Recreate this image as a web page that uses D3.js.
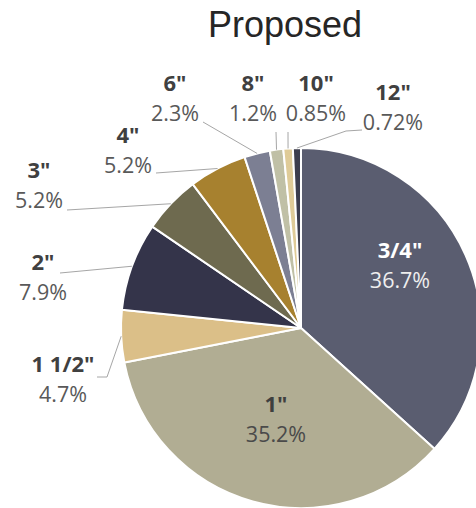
<!DOCTYPE html>
<html>
<head>
<meta charset="utf-8">
<script src="https://cdn.jsdelivr.net/npm/d3@7"></script>
<style>
  html, body { margin: 0; padding: 0; background: #ffffff; }
  svg { display: block; }
</style>
</head>
<body>
<svg id="chart" width="476" height="508"></svg>
<script>
// Pipe size distribution, proposed layout
const sizes = ['3/4"', '1"', '1 1/2"', '2"', '3"', '4"', '6"', '8"', '10"', '12"'];
const shares = [36.7, 35.2, 4.7, 7.9, 5.2, 5.2, 2.3, 1.2, 0.85, 0.72];
const shareLabels = ['36.7%', '35.2%', '4.7%', '7.9%', '5.2%', '5.2%', '2.3%', '1.2%', '0.85%', '0.72%'];
const sliceColors = ['#5a5d70', '#b1ad93', '#dbbf88', '#34344a', '#6e6a4f',
                     '#a7812f', '#7c7f93', '#c0c0a6', '#dfcb98', '#3c3d4d'];
const title = 'Proposed';

const width = 476, height = 508;
const cx = 301, cy = 328, radius = 180;

// Label anchors (centre x, baseline of the size line), leader bends and text colours
const labelLayout = [
  { x: 400, y: 258, inside: true, nameFill: '#ffffff', valueFill: '#eeeeee' },
  { x: 276, y: 412, inside: true, nameFill: '#3f3f3f', valueFill: '#4a4a4a' },
  { x: 63, y: 372, leader: [[97, 377], [107, 377]] },
  { x: 43, y: 270, leader: [[60, 273]] },
  { x: 39, y: 178, leader: [[67, 210]] },
  { x: 128, y: 143, leader: [[156, 173]] },
  { x: 175, y: 91, leader: [[203, 122]] },
  { x: 253, y: 91, leader: [[276, 132]] },
  { x: 316, y: 91, leader: [[288, 132]] },
  { x: 393, y: 100, leader: [[362, 130], [346, 131]] }
];

const svg = d3.select('#chart');

svg.append('text')
  .attr('x', 285)
  .attr('y', 37)
  .attr('text-anchor', 'middle')
  .attr('font-family', '"Liberation Sans", Arial, sans-serif')
  .attr('font-size', 36)
  .attr('fill', '#262626')
  .text(title);

const pie = d3.pie().sort(null).value(d => d).startAngle(0).endAngle(2 * Math.PI);
const arcs = pie(shares);
const arc = d3.arc().innerRadius(0).outerRadius(radius);
const color = d3.scaleOrdinal().domain(sizes).range(sliceColors);

const g = svg.append('g').attr('transform', `translate(${cx},${cy})`);

g.selectAll('path.slice')
  .data(arcs)
  .join('path')
  .attr('class', 'slice')
  .attr('d', arc)
  .attr('fill', (d, i) => color(sizes[i]))
  .attr('stroke', '#ffffff')
  .attr('stroke-width', 2)
  .attr('stroke-linejoin', 'round');

// Leader lines from the outside labels to the middle of each slice's rim
const rimPoint = d => {
  const a = (d.startAngle + d.endAngle) / 2;
  return [cx + radius * Math.sin(a), cy - radius * Math.cos(a)];
};
const line = d3.line();

svg.selectAll('path.leader')
  .data(arcs.filter((d, i) => labelLayout[i].leader))
  .join('path')
  .attr('class', 'leader')
  .attr('d', d => line(labelLayout[d.index].leader.concat([rimPoint(d)])))
  .attr('fill', 'none')
  .attr('stroke', '#a6a6a6')
  .attr('stroke-width', 1);

const labels = svg.selectAll('g.label')
  .data(arcs)
  .join('g')
  .attr('class', 'label')
  .attr('font-family', '"Open Sans", "DejaVu Sans", sans-serif')
  .attr('text-anchor', 'middle');

labels.append('text')
  .attr('x', d => labelLayout[d.index].x)
  .attr('y', d => labelLayout[d.index].y)
  .attr('font-size', 22)
  .attr('font-weight', 'bold')
  .attr('fill', d => labelLayout[d.index].nameFill || '#404040')
  .text(d => sizes[d.index]);

labels.append('text')
  .attr('x', d => labelLayout[d.index].x)
  .attr('y', d => labelLayout[d.index].y + 30)
  .attr('font-size', 21.5)
  .attr('fill', d => labelLayout[d.index].valueFill || '#595959')
  .text(d => shareLabels[d.index]);
</script>
</body>
</html>
